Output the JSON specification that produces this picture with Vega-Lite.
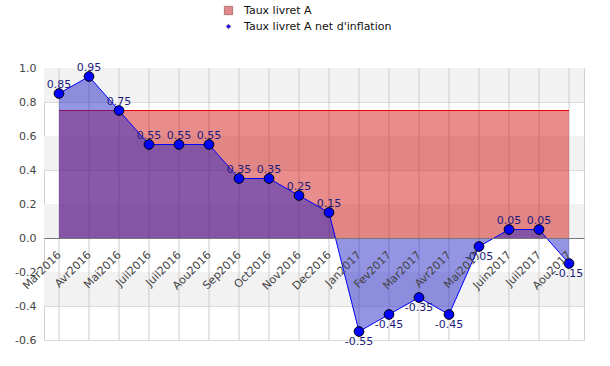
{
  "$schema": "https://vega.github.io/schema/vega-lite/v6.json",
  "width": 540,
  "height": 272,
  "autosize": {"type": "none"},
  "padding": {"left": 44, "top": 68, "right": 26, "bottom": 26},
  "background": "white",
  "config": {
    "font": "DejaVu Sans",
    "locale": {"number": {"decimal": ".", "thousands": ",", "grouping": [3], "currency": ["", ""], "minus": "-"}},
    "view": {"stroke": "#d0d0d0"},
    "axis": {"labelFont": "DejaVu Sans", "labelFontSize": 11, "labelColor": "#444444", "labelLimit": 0, "labelBound": false, "labelFlush": false},
    "axisY": {"labelOverlap": false, "tickCount": 9, "grid": true, "gridColor": "#dcdcdc", "domain": false, "ticks": false, "labelPadding": 8, "format": ".1f", "title": null}
  },
  "datasets": {
    "months": [
      {"month": "Mar2016", "livretA": 0.75, "net": 0.85},
      {"month": "Avr2016", "livretA": 0.75, "net": 0.95},
      {"month": "Mai2016", "livretA": 0.75, "net": 0.75},
      {"month": "Juil2016\u200b", "livretA": 0.75, "net": 0.55},
      {"month": "Juil2016", "livretA": 0.75, "net": 0.55},
      {"month": "Aou2016", "livretA": 0.75, "net": 0.55},
      {"month": "Sep2016", "livretA": 0.75, "net": 0.35},
      {"month": "Oct2016", "livretA": 0.75, "net": 0.35},
      {"month": "Nov2016", "livretA": 0.75, "net": 0.25},
      {"month": "Dec2016", "livretA": 0.75, "net": 0.15},
      {"month": "Jan2017", "livretA": 0.75, "net": -0.55},
      {"month": "Fev2017", "livretA": 0.75, "net": -0.45},
      {"month": "Mar2017", "livretA": 0.75, "net": -0.35},
      {"month": "Avr2017", "livretA": 0.75, "net": -0.45},
      {"month": "Mai2017", "livretA": 0.75, "net": -0.05},
      {"month": "Juin2017", "livretA": 0.75, "net": 0.05},
      {"month": "Juil2017", "livretA": 0.75, "net": 0.05},
      {"month": "Aou2017", "livretA": 0.75, "net": -0.15}
    ],
    "bands": [
      {"lo": 0.8, "hi": 1.0},
      {"lo": 0.4, "hi": 0.6},
      {"lo": 0.0, "hi": 0.2},
      {"lo": -0.4, "hi": -0.2}
    ],
    "legend": [
      {"serie": "Taux livret A"},
      {"serie": "Taux livret A net d'inflation"}
    ]
  },
  "layer": [
    {
      "data": {"name": "bands"},
      "mark": {"type": "rect", "fill": "#f2f2f2"},
      "encoding": {
        "y": {
          "field": "lo", "type": "quantitative",
          "scale": {"domain": [-0.6, 1.0], "nice": false, "zero": false}
        },
        "y2": {"field": "hi"}
      }
    },
    {
      "data": {"name": "months"},
      "mark": {"type": "rule", "color": "#cccccc", "strokeWidth": 1},
      "encoding": {
        "x": {
          "field": "month", "type": "ordinal", "sort": null,
          "scale": {"type": "point", "padding": 0.5},
          "axis": {
            "title": null, "offset": -102, "labelAngle": -45, "labelAlign": "right",
            "labelBaseline": "middle", "ticks": false, "grid": false, "zindex": 1,
            "domainColor": "#777777", "domainWidth": 1, "labelPadding": 15, "labelOverlap": false
          }
        }
      }
    },
    {
      "data": {"name": "months"},
      "mark": {"type": "area", "color": "#cc0000", "fillOpacity": 0.45},
      "encoding": {
        "x": {"field": "month", "type": "ordinal", "sort": null},
        "y": {"field": "livretA", "type": "quantitative"}
      }
    },
    {
      "data": {"name": "months"},
      "mark": {"type": "line", "color": "#ee0000", "strokeWidth": 1.2},
      "encoding": {
        "x": {"field": "month", "type": "ordinal", "sort": null},
        "y": {"field": "livretA", "type": "quantitative"}
      }
    },
    {
      "data": {"name": "months"},
      "mark": {"type": "area", "color": "#2020c8", "fillOpacity": 0.48},
      "encoding": {
        "x": {"field": "month", "type": "ordinal", "sort": null},
        "y": {"field": "net", "type": "quantitative"}
      }
    },
    {
      "data": {"name": "months"},
      "mark": {"type": "line", "color": "#0000ff", "strokeWidth": 1},
      "encoding": {
        "x": {"field": "month", "type": "ordinal", "sort": null},
        "y": {"field": "net", "type": "quantitative"}
      }
    },
    {
      "data": {"name": "months"},
      "mark": {"type": "point", "shape": "circle", "filled": true, "size": 95, "fill": "#0000ff", "stroke": "#000000", "strokeWidth": 1, "opacity": 1},
      "encoding": {
        "x": {"field": "month", "type": "ordinal", "sort": null},
        "y": {"field": "net", "type": "quantitative"}
      }
    },
    {
      "data": {"name": "months"},
      "transform": [{"filter": "datum.net >= 0"}],
      "mark": {"type": "text", "baseline": "alphabetic", "dy": -6, "fontSize": 11, "color": "#1c1c7c"},
      "encoding": {
        "x": {"field": "month", "type": "ordinal", "sort": null},
        "y": {"field": "net", "type": "quantitative"},
        "text": {"field": "net", "type": "quantitative", "format": ".2f"}
      }
    },
    {
      "data": {"name": "months"},
      "transform": [{"filter": "datum.net < 0"}],
      "mark": {"type": "text", "baseline": "alphabetic", "dy": 13, "fontSize": 11, "color": "#1c1c7c"},
      "encoding": {
        "x": {"field": "month", "type": "ordinal", "sort": null},
        "y": {"field": "net", "type": "quantitative"},
        "text": {"field": "net", "type": "quantitative", "format": ".2f"}
      }
    },
    {
      "data": {"name": "legend"},
      "mark": {"type": "point", "filled": true, "opacity": 0},
      "encoding": {
        "color": {
          "field": "serie", "type": "nominal",
          "scale": {"domain": ["Taux livret A", "Taux livret A net d'inflation"], "range": ["#e08a8a", "#0000ff"]},
          "legend": {"title": null, "orient": "none", "legendX": 179, "legendY": -63, "labelFontSize": 11, "labelColor": "#111111", "labelOffset": 10, "rowPadding": 4, "padding": 0, "symbolStrokeWidth": 0.6, "symbolStrokeColor": "#8a4a4a", "symbolOpacity": 1,
            "encode": {"symbols": {"update": {"opacity": {"value": 1}, "fillOpacity": {"value": 1}, "strokeOpacity": {"value": 1}}}}}
        },
        "shape": {
          "field": "serie", "type": "nominal",
          "scale": {"domain": ["Taux livret A", "Taux livret A net d'inflation"], "range": ["square", "diamond"]},
          "legend": {"title": null, "orient": "none", "legendX": 179, "legendY": -63, "labelFontSize": 11, "labelColor": "#111111", "labelOffset": 10, "rowPadding": 4, "padding": 0, "symbolStrokeWidth": 0.6, "symbolStrokeColor": "#8a4a4a", "symbolOpacity": 1,
            "encode": {"symbols": {"update": {"opacity": {"value": 1}, "fillOpacity": {"value": 1}, "strokeOpacity": {"value": 1}}}}}
        },
        "size": {
          "field": "serie", "type": "nominal",
          "scale": {"domain": ["Taux livret A", "Taux livret A net d'inflation"], "range": [70, 22]},
          "legend": {"title": null, "orient": "none", "legendX": 179, "legendY": -63, "labelFontSize": 11, "labelColor": "#111111", "labelOffset": 10, "rowPadding": 4, "padding": 0, "symbolStrokeWidth": 0.6, "symbolStrokeColor": "#8a4a4a", "symbolOpacity": 1,
            "encode": {"symbols": {"update": {"opacity": {"value": 1}, "fillOpacity": {"value": 1}, "strokeOpacity": {"value": 1}}}}}
        }
      }
    }
  ]
}
